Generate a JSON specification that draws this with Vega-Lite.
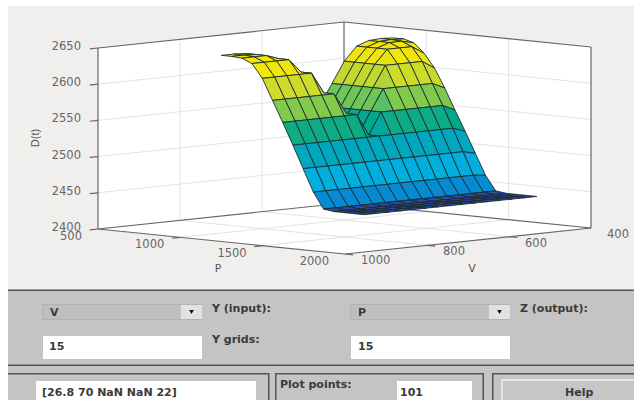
{
"$schema":"https://vega.github.io/schema/vega-lite/v6.json",
"width":634,"height":400,"padding":0,"autosize":{"type":"none"},"background":"#ffffff",
"config":{"view":{"stroke":null}},
"datasets":{
"panels":[
{"kind":"figure","x0":8,"x1":634,"y0":6,"y1":290},
{"kind":"panel","x0":8,"x1":634,"y0":290,"y1":400},
{"kind":"line","x0":8,"x1":634,"y0":289.5,"y1":291},
{"kind":"line","x0":8,"x1":634,"y0":364.5,"y1":366},
{"kind":"line","x0":8,"x1":269,"y0":373,"y1":374.5},
{"kind":"line","x0":268,"x1":269.5,"y0":373,"y1":400},
{"kind":"line","x0":275,"x1":484,"y0":373,"y1":374.5},
{"kind":"line","x0":275,"x1":276.5,"y0":373,"y1":400},
{"kind":"line","x0":482.5,"x1":484,"y0":373,"y1":400},
{"kind":"line","x0":492,"x1":634,"y0":373,"y1":374.5},
{"kind":"line","x0":492,"x1":493.5,"y0":373,"y1":400},
{"kind":"edge","x0":42,"x1":202,"y0":304,"y1":320},
{"kind":"popup","x0":43,"x1":201,"y0":305,"y1":319},
{"kind":"button","x0":181,"x1":202,"y0":305,"y1":319},
{"kind":"edge","x0":350,"x1":510,"y0":304,"y1":320},
{"kind":"popup","x0":351,"x1":509,"y0":305,"y1":319},
{"kind":"button","x0":489,"x1":510,"y0":305,"y1":319},
{"kind":"field","x0":43,"x1":202,"y0":336,"y1":359},
{"kind":"field","x0":351,"x1":510,"y0":336,"y1":359},
{"kind":"field","x0":36,"x1":256,"y0":381,"y1":400},
{"kind":"field","x0":397,"x1":472,"y0":381,"y1":400},
{"kind":"hl","x0":501,"x1":634,"y0":379,"y1":400},
{"kind":"help","x0":503,"x1":634,"y0":381,"y1":400}
],
"arrows":[{"x":191.5,"y":312},{"x":499.5,"y":312}],
"uitext":[
{"x":50,"y":313,"t":"V"},
{"x":212,"y":309,"t":"Y (input):"},
{"x":212,"y":340,"t":"Y grids:"},
{"x":49,"y":347,"t":"15"},
{"x":358,"y":313,"t":"P"},
{"x":520,"y":309,"t":"Z (output):"},
{"x":358,"y":347,"t":"15"},
{"x":42,"y":393,"t":"[26.8 70 NaN NaN 22]"},
{"x":280,"y":385,"t":"Plot points:"},
{"x":400,"y":393,"t":"101"},
{"x":565,"y":393,"t":"Help"}
],
"walls":[
{"o":0,"P":500,"V":1000,"D":2400},
{"o":1,"P":500,"V":1000,"D":2650},
{"o":2,"P":500,"V":400,"D":2650},
{"o":3,"P":2000,"V":400,"D":2650},
{"o":4,"P":2000,"V":400,"D":2400},
{"o":5,"P":2000,"V":1000,"D":2400},
{"o":6,"P":500,"V":1000,"D":2400}
],
"frame":[
{"kind":"grid","P0":500,"V0":1000,"D0":2450,"P1":500,"V1":400,"D1":2450},
{"kind":"grid","P0":500,"V0":1000,"D0":2500,"P1":500,"V1":400,"D1":2500},
{"kind":"grid","P0":500,"V0":1000,"D0":2550,"P1":500,"V1":400,"D1":2550},
{"kind":"grid","P0":500,"V0":1000,"D0":2600,"P1":500,"V1":400,"D1":2600},
{"kind":"grid","P0":500,"V0":400,"D0":2450,"P1":2000,"V1":400,"D1":2450},
{"kind":"grid","P0":500,"V0":400,"D0":2500,"P1":2000,"V1":400,"D1":2500},
{"kind":"grid","P0":500,"V0":400,"D0":2550,"P1":2000,"V1":400,"D1":2550},
{"kind":"grid","P0":500,"V0":400,"D0":2600,"P1":2000,"V1":400,"D1":2600},
{"kind":"grid","P0":500,"V0":800,"D0":2400,"P1":500,"V1":800,"D1":2650},
{"kind":"grid","P0":500,"V0":600,"D0":2400,"P1":500,"V1":600,"D1":2650},
{"kind":"grid","P0":1000,"V0":400,"D0":2400,"P1":1000,"V1":400,"D1":2650},
{"kind":"grid","P0":1500,"V0":400,"D0":2400,"P1":1500,"V1":400,"D1":2650},
{"kind":"grid","P0":1000,"V0":1000,"D0":2400,"P1":1000,"V1":400,"D1":2400},
{"kind":"grid","P0":1500,"V0":1000,"D0":2400,"P1":1500,"V1":400,"D1":2400},
{"kind":"grid","P0":500,"V0":800,"D0":2400,"P1":2000,"V1":800,"D1":2400},
{"kind":"grid","P0":500,"V0":600,"D0":2400,"P1":2000,"V1":600,"D1":2400},
{"kind":"edge","P0":500,"V0":1000,"D0":2400,"P1":500,"V1":1000,"D1":2650},
{"kind":"edge","P0":500,"V0":400,"D0":2400,"P1":500,"V1":400,"D1":2650},
{"kind":"edge","P0":2000,"V0":400,"D0":2400,"P1":2000,"V1":400,"D1":2650},
{"kind":"edge","P0":500,"V0":1000,"D0":2650,"P1":500,"V1":400,"D1":2650},
{"kind":"edge","P0":500,"V0":400,"D0":2650,"P1":2000,"V1":400,"D1":2650},
{"kind":"edge","P0":500,"V0":1000,"D0":2400,"P1":500,"V1":400,"D1":2400},
{"kind":"edge","P0":500,"V0":400,"D0":2400,"P1":2000,"V1":400,"D1":2400},
{"kind":"edge","P0":500,"V0":1000,"D0":2400,"P1":2000,"V1":1000,"D1":2400},
{"kind":"edge","P0":2000,"V0":1000,"D0":2400,"P1":2000,"V1":400,"D1":2400},
{"kind":"edge","P0":500,"V0":1000,"D0":2400,"P1":500,"V1":1020,"D1":2400},
{"kind":"edge","P0":500,"V0":1000,"D0":2450,"P1":500,"V1":1020,"D1":2450},
{"kind":"edge","P0":500,"V0":1000,"D0":2500,"P1":500,"V1":1020,"D1":2500},
{"kind":"edge","P0":500,"V0":1000,"D0":2550,"P1":500,"V1":1020,"D1":2550},
{"kind":"edge","P0":500,"V0":1000,"D0":2600,"P1":500,"V1":1020,"D1":2600},
{"kind":"edge","P0":500,"V0":1000,"D0":2650,"P1":500,"V1":1020,"D1":2650},
{"kind":"edge","P0":1000,"V0":1000,"D0":2400,"P1":1000,"V1":1020,"D1":2400},
{"kind":"edge","P0":1500,"V0":1000,"D0":2400,"P1":1500,"V1":1020,"D1":2400},
{"kind":"edge","P0":2000,"V0":1000,"D0":2400,"P1":2050,"V1":1000,"D1":2400},
{"kind":"edge","P0":2000,"V0":800,"D0":2400,"P1":2050,"V1":800,"D1":2400},
{"kind":"edge","P0":2000,"V0":600,"D0":2400,"P1":2050,"V1":600,"D1":2400}
],
"ticksP":[{"P":500,"V":1000,"D":2400,"t":"500"},{"P":1000,"V":1000,"D":2400,"t":"1000"},{"P":1500,"V":1000,"D":2400,"t":"1500"},{"P":2000,"V":1000,"D":2400,"t":"2000"}],
"ticksV":[{"P":2000,"V":1000,"D":2400,"t":"1000"},{"P":2000,"V":800,"D":2400,"t":"800"},{"P":2000,"V":600,"D":2400,"t":"600"},{"P":2000,"V":400,"D":2400,"t":"400"}],
"ticksD":[{"P":500,"V":1000,"D":2400,"t":"2400"},{"P":500,"V":1000,"D":2450,"t":"2450"},{"P":500,"V":1000,"D":2500,"t":"2500"},{"P":500,"V":1000,"D":2550,"t":"2550"},{"P":500,"V":1000,"D":2600,"t":"2600"},{"P":500,"V":1000,"D":2650,"t":"2650"}],
"titles":[{"x":218,"y":269,"t":"P"},{"x":472,"y":269,"t":"V"}],
"ztitle":[{"x":36,"y":138,"t":"D(t)"}],
"nodes":[
{"k":14,"i":0,"j":14,"P":950,"V":460,"D":2642},{"k":13,"i":0,"j":13,"P":950,"V":490,"D":2643},{"k":12,"i":0,"j":12,"P":950,"V":520,"D":2642},{"k":11,"i":0,"j":11,"P":950,"V":550,"D":2636},{"k":10,"i":0,"j":10,"P":950,"V":580,"D":2617},{"k":9,"i":0,"j":9,"P":950,"V":610,"D":2588},{"k":8,"i":0,"j":8,"P":950,"V":640,"D":2559},{"k":7,"i":0,"j":7,"P":950,"V":670,"D":2529},{"k":6,"i":0,"j":6,"P":950,"V":700,"D":2559},{"k":5,"i":0,"j":5,"P":950,"V":730,"D":2588},{"k":4,"i":0,"j":4,"P":950,"V":760,"D":2617},{"k":3,"i":0,"j":3,"P":950,"V":790,"D":2636},{"k":2,"i":0,"j":2,"P":950,"V":820,"D":2642},{"k":1,"i":0,"j":1,"P":950,"V":850,"D":2643},{"k":0,"i":0,"j":0,"P":950,"V":880,"D":2643},
{"k":114,"i":1,"j":14,"P":1012,"V":460,"D":2642},{"k":113,"i":1,"j":13,"P":1012,"V":490,"D":2643},{"k":112,"i":1,"j":12,"P":1012,"V":520,"D":2642},{"k":111,"i":1,"j":11,"P":1012,"V":550,"D":2636},{"k":110,"i":1,"j":10,"P":1012,"V":580,"D":2617},{"k":109,"i":1,"j":9,"P":1012,"V":610,"D":2588},{"k":108,"i":1,"j":8,"P":1012,"V":640,"D":2559},{"k":107,"i":1,"j":7,"P":1012,"V":670,"D":2529},{"k":106,"i":1,"j":6,"P":1012,"V":700,"D":2559},{"k":105,"i":1,"j":5,"P":1012,"V":730,"D":2588},{"k":104,"i":1,"j":4,"P":1012,"V":760,"D":2617},{"k":103,"i":1,"j":3,"P":1012,"V":790,"D":2636},{"k":102,"i":1,"j":2,"P":1012,"V":820,"D":2642},{"k":101,"i":1,"j":1,"P":1012,"V":850,"D":2643},{"k":100,"i":1,"j":0,"P":1012,"V":880,"D":2643},
{"k":214,"i":2,"j":14,"P":1074,"V":460,"D":2638},{"k":213,"i":2,"j":13,"P":1074,"V":490,"D":2642},{"k":212,"i":2,"j":12,"P":1074,"V":520,"D":2642},{"k":211,"i":2,"j":11,"P":1074,"V":550,"D":2636},{"k":210,"i":2,"j":10,"P":1074,"V":580,"D":2617},{"k":209,"i":2,"j":9,"P":1074,"V":610,"D":2588},{"k":208,"i":2,"j":8,"P":1074,"V":640,"D":2559},{"k":207,"i":2,"j":7,"P":1074,"V":670,"D":2529},{"k":206,"i":2,"j":6,"P":1074,"V":700,"D":2559},{"k":205,"i":2,"j":5,"P":1074,"V":730,"D":2588},{"k":204,"i":2,"j":4,"P":1074,"V":760,"D":2617},{"k":203,"i":2,"j":3,"P":1074,"V":790,"D":2636},{"k":202,"i":2,"j":2,"P":1074,"V":820,"D":2642},{"k":201,"i":2,"j":1,"P":1074,"V":850,"D":2642},{"k":200,"i":2,"j":0,"P":1074,"V":880,"D":2642},
{"k":314,"i":3,"j":14,"P":1136,"V":460,"D":2625},{"k":313,"i":3,"j":13,"P":1136,"V":490,"D":2636},{"k":312,"i":3,"j":12,"P":1136,"V":520,"D":2636},{"k":311,"i":3,"j":11,"P":1136,"V":550,"D":2636},{"k":310,"i":3,"j":10,"P":1136,"V":580,"D":2617},{"k":309,"i":3,"j":9,"P":1136,"V":610,"D":2588},{"k":308,"i":3,"j":8,"P":1136,"V":640,"D":2559},{"k":307,"i":3,"j":7,"P":1136,"V":670,"D":2529},{"k":306,"i":3,"j":6,"P":1136,"V":700,"D":2559},{"k":305,"i":3,"j":5,"P":1136,"V":730,"D":2588},{"k":304,"i":3,"j":4,"P":1136,"V":760,"D":2617},{"k":303,"i":3,"j":3,"P":1136,"V":790,"D":2636},{"k":302,"i":3,"j":2,"P":1136,"V":820,"D":2636},{"k":301,"i":3,"j":1,"P":1136,"V":850,"D":2636},{"k":300,"i":3,"j":0,"P":1136,"V":880,"D":2636},
{"k":414,"i":4,"j":14,"P":1199,"V":460,"D":2606},{"k":413,"i":4,"j":13,"P":1199,"V":490,"D":2617},{"k":412,"i":4,"j":12,"P":1199,"V":520,"D":2617},{"k":411,"i":4,"j":11,"P":1199,"V":550,"D":2617},{"k":410,"i":4,"j":10,"P":1199,"V":580,"D":2617},{"k":409,"i":4,"j":9,"P":1199,"V":610,"D":2588},{"k":408,"i":4,"j":8,"P":1199,"V":640,"D":2559},{"k":407,"i":4,"j":7,"P":1199,"V":670,"D":2529},{"k":406,"i":4,"j":6,"P":1199,"V":700,"D":2559},{"k":405,"i":4,"j":5,"P":1199,"V":730,"D":2588},{"k":404,"i":4,"j":4,"P":1199,"V":760,"D":2617},{"k":403,"i":4,"j":3,"P":1199,"V":790,"D":2617},{"k":402,"i":4,"j":2,"P":1199,"V":820,"D":2617},{"k":401,"i":4,"j":1,"P":1199,"V":850,"D":2617},{"k":400,"i":4,"j":0,"P":1199,"V":880,"D":2617},
{"k":514,"i":5,"j":14,"P":1261,"V":460,"D":2580},{"k":513,"i":5,"j":13,"P":1261,"V":490,"D":2588},{"k":512,"i":5,"j":12,"P":1261,"V":520,"D":2588},{"k":511,"i":5,"j":11,"P":1261,"V":550,"D":2588},{"k":510,"i":5,"j":10,"P":1261,"V":580,"D":2588},{"k":509,"i":5,"j":9,"P":1261,"V":610,"D":2588},{"k":508,"i":5,"j":8,"P":1261,"V":640,"D":2559},{"k":507,"i":5,"j":7,"P":1261,"V":670,"D":2529},{"k":506,"i":5,"j":6,"P":1261,"V":700,"D":2559},{"k":505,"i":5,"j":5,"P":1261,"V":730,"D":2588},{"k":504,"i":5,"j":4,"P":1261,"V":760,"D":2588},{"k":503,"i":5,"j":3,"P":1261,"V":790,"D":2588},{"k":502,"i":5,"j":2,"P":1261,"V":820,"D":2588},{"k":501,"i":5,"j":1,"P":1261,"V":850,"D":2588},{"k":500,"i":5,"j":0,"P":1261,"V":880,"D":2588},
{"k":614,"i":6,"j":14,"P":1323,"V":460,"D":2551},{"k":613,"i":6,"j":13,"P":1323,"V":490,"D":2559},{"k":612,"i":6,"j":12,"P":1323,"V":520,"D":2559},{"k":611,"i":6,"j":11,"P":1323,"V":550,"D":2559},{"k":610,"i":6,"j":10,"P":1323,"V":580,"D":2559},{"k":609,"i":6,"j":9,"P":1323,"V":610,"D":2559},{"k":608,"i":6,"j":8,"P":1323,"V":640,"D":2559},{"k":607,"i":6,"j":7,"P":1323,"V":670,"D":2529},{"k":606,"i":6,"j":6,"P":1323,"V":700,"D":2559},{"k":605,"i":6,"j":5,"P":1323,"V":730,"D":2559},{"k":604,"i":6,"j":4,"P":1323,"V":760,"D":2559},{"k":603,"i":6,"j":3,"P":1323,"V":790,"D":2559},{"k":602,"i":6,"j":2,"P":1323,"V":820,"D":2559},{"k":601,"i":6,"j":1,"P":1323,"V":850,"D":2559},{"k":600,"i":6,"j":0,"P":1323,"V":880,"D":2559},
{"k":714,"i":7,"j":14,"P":1385,"V":460,"D":2523},{"k":713,"i":7,"j":13,"P":1385,"V":490,"D":2529},{"k":712,"i":7,"j":12,"P":1385,"V":520,"D":2529},{"k":711,"i":7,"j":11,"P":1385,"V":550,"D":2529},{"k":710,"i":7,"j":10,"P":1385,"V":580,"D":2529},{"k":709,"i":7,"j":9,"P":1385,"V":610,"D":2529},{"k":708,"i":7,"j":8,"P":1385,"V":640,"D":2529},{"k":707,"i":7,"j":7,"P":1385,"V":670,"D":2529},{"k":706,"i":7,"j":6,"P":1385,"V":700,"D":2529},{"k":705,"i":7,"j":5,"P":1385,"V":730,"D":2529},{"k":704,"i":7,"j":4,"P":1385,"V":760,"D":2529},{"k":703,"i":7,"j":3,"P":1385,"V":790,"D":2529},{"k":702,"i":7,"j":2,"P":1385,"V":820,"D":2529},{"k":701,"i":7,"j":1,"P":1385,"V":850,"D":2529},{"k":700,"i":7,"j":0,"P":1385,"V":880,"D":2529},
{"k":814,"i":8,"j":14,"P":1447,"V":460,"D":2494},{"k":813,"i":8,"j":13,"P":1447,"V":490,"D":2498},{"k":812,"i":8,"j":12,"P":1447,"V":520,"D":2498},{"k":811,"i":8,"j":11,"P":1447,"V":550,"D":2498},{"k":810,"i":8,"j":10,"P":1447,"V":580,"D":2498},{"k":809,"i":8,"j":9,"P":1447,"V":610,"D":2498},{"k":808,"i":8,"j":8,"P":1447,"V":640,"D":2498},{"k":807,"i":8,"j":7,"P":1447,"V":670,"D":2498},{"k":806,"i":8,"j":6,"P":1447,"V":700,"D":2498},{"k":805,"i":8,"j":5,"P":1447,"V":730,"D":2498},{"k":804,"i":8,"j":4,"P":1447,"V":760,"D":2498},{"k":803,"i":8,"j":3,"P":1447,"V":790,"D":2498},{"k":802,"i":8,"j":2,"P":1447,"V":820,"D":2498},{"k":801,"i":8,"j":1,"P":1447,"V":850,"D":2498},{"k":800,"i":8,"j":0,"P":1447,"V":880,"D":2498},
{"k":914,"i":9,"j":14,"P":1509,"V":460,"D":2465},{"k":913,"i":9,"j":13,"P":1509,"V":490,"D":2467},{"k":912,"i":9,"j":12,"P":1509,"V":520,"D":2467},{"k":911,"i":9,"j":11,"P":1509,"V":550,"D":2467},{"k":910,"i":9,"j":10,"P":1509,"V":580,"D":2467},{"k":909,"i":9,"j":9,"P":1509,"V":610,"D":2467},{"k":908,"i":9,"j":8,"P":1509,"V":640,"D":2467},{"k":907,"i":9,"j":7,"P":1509,"V":670,"D":2467},{"k":906,"i":9,"j":6,"P":1509,"V":700,"D":2467},{"k":905,"i":9,"j":5,"P":1509,"V":730,"D":2467},{"k":904,"i":9,"j":4,"P":1509,"V":760,"D":2467},{"k":903,"i":9,"j":3,"P":1509,"V":790,"D":2467},{"k":902,"i":9,"j":2,"P":1509,"V":820,"D":2467},{"k":901,"i":9,"j":1,"P":1509,"V":850,"D":2467},{"k":900,"i":9,"j":0,"P":1509,"V":880,"D":2467},
{"k":1014,"i":10,"j":14,"P":1571,"V":460,"D":2445},{"k":1013,"i":10,"j":13,"P":1571,"V":490,"D":2445},{"k":1012,"i":10,"j":12,"P":1571,"V":520,"D":2445},{"k":1011,"i":10,"j":11,"P":1571,"V":550,"D":2445},{"k":1010,"i":10,"j":10,"P":1571,"V":580,"D":2445},{"k":1009,"i":10,"j":9,"P":1571,"V":610,"D":2445},{"k":1008,"i":10,"j":8,"P":1571,"V":640,"D":2445},{"k":1007,"i":10,"j":7,"P":1571,"V":670,"D":2445},{"k":1006,"i":10,"j":6,"P":1571,"V":700,"D":2445},{"k":1005,"i":10,"j":5,"P":1571,"V":730,"D":2445},{"k":1004,"i":10,"j":4,"P":1571,"V":760,"D":2445},{"k":1003,"i":10,"j":3,"P":1571,"V":790,"D":2445},{"k":1002,"i":10,"j":2,"P":1571,"V":820,"D":2445},{"k":1001,"i":10,"j":1,"P":1571,"V":850,"D":2445},{"k":1000,"i":10,"j":0,"P":1571,"V":880,"D":2445},
{"k":1114,"i":11,"j":14,"P":1634,"V":460,"D":2443},{"k":1113,"i":11,"j":13,"P":1634,"V":490,"D":2443},{"k":1112,"i":11,"j":12,"P":1634,"V":520,"D":2443},{"k":1111,"i":11,"j":11,"P":1634,"V":550,"D":2443},{"k":1110,"i":11,"j":10,"P":1634,"V":580,"D":2443},{"k":1109,"i":11,"j":9,"P":1634,"V":610,"D":2443},{"k":1108,"i":11,"j":8,"P":1634,"V":640,"D":2443},{"k":1107,"i":11,"j":7,"P":1634,"V":670,"D":2443},{"k":1106,"i":11,"j":6,"P":1634,"V":700,"D":2443},{"k":1105,"i":11,"j":5,"P":1634,"V":730,"D":2443},{"k":1104,"i":11,"j":4,"P":1634,"V":760,"D":2443},{"k":1103,"i":11,"j":3,"P":1634,"V":790,"D":2443},{"k":1102,"i":11,"j":2,"P":1634,"V":820,"D":2443},{"k":1101,"i":11,"j":1,"P":1634,"V":850,"D":2443},{"k":1100,"i":11,"j":0,"P":1634,"V":880,"D":2443},
{"k":1214,"i":12,"j":14,"P":1696,"V":460,"D":2443},{"k":1213,"i":12,"j":13,"P":1696,"V":490,"D":2443},{"k":1212,"i":12,"j":12,"P":1696,"V":520,"D":2443},{"k":1211,"i":12,"j":11,"P":1696,"V":550,"D":2443},{"k":1210,"i":12,"j":10,"P":1696,"V":580,"D":2443},{"k":1209,"i":12,"j":9,"P":1696,"V":610,"D":2443},{"k":1208,"i":12,"j":8,"P":1696,"V":640,"D":2443},{"k":1207,"i":12,"j":7,"P":1696,"V":670,"D":2443},{"k":1206,"i":12,"j":6,"P":1696,"V":700,"D":2443},{"k":1205,"i":12,"j":5,"P":1696,"V":730,"D":2443},{"k":1204,"i":12,"j":4,"P":1696,"V":760,"D":2443},{"k":1203,"i":12,"j":3,"P":1696,"V":790,"D":2443},{"k":1202,"i":12,"j":2,"P":1696,"V":820,"D":2443},{"k":1201,"i":12,"j":1,"P":1696,"V":850,"D":2443},{"k":1200,"i":12,"j":0,"P":1696,"V":880,"D":2443},
{"k":1314,"i":13,"j":14,"P":1758,"V":460,"D":2443},{"k":1313,"i":13,"j":13,"P":1758,"V":490,"D":2443},{"k":1312,"i":13,"j":12,"P":1758,"V":520,"D":2443},{"k":1311,"i":13,"j":11,"P":1758,"V":550,"D":2443},{"k":1310,"i":13,"j":10,"P":1758,"V":580,"D":2443},{"k":1309,"i":13,"j":9,"P":1758,"V":610,"D":2443},{"k":1308,"i":13,"j":8,"P":1758,"V":640,"D":2443},{"k":1307,"i":13,"j":7,"P":1758,"V":670,"D":2443},{"k":1306,"i":13,"j":6,"P":1758,"V":700,"D":2443},{"k":1305,"i":13,"j":5,"P":1758,"V":730,"D":2443},{"k":1304,"i":13,"j":4,"P":1758,"V":760,"D":2443},{"k":1303,"i":13,"j":3,"P":1758,"V":790,"D":2443},{"k":1302,"i":13,"j":2,"P":1758,"V":820,"D":2443},{"k":1301,"i":13,"j":1,"P":1758,"V":850,"D":2443},{"k":1300,"i":13,"j":0,"P":1758,"V":880,"D":2443},
{"k":1414,"i":14,"j":14,"P":1820,"V":460,"D":2443},{"k":1413,"i":14,"j":13,"P":1820,"V":490,"D":2443},{"k":1412,"i":14,"j":12,"P":1820,"V":520,"D":2443},{"k":1411,"i":14,"j":11,"P":1820,"V":550,"D":2443},{"k":1410,"i":14,"j":10,"P":1820,"V":580,"D":2443},{"k":1409,"i":14,"j":9,"P":1820,"V":610,"D":2443},{"k":1408,"i":14,"j":8,"P":1820,"V":640,"D":2443},{"k":1407,"i":14,"j":7,"P":1820,"V":670,"D":2443},{"k":1406,"i":14,"j":6,"P":1820,"V":700,"D":2443},{"k":1405,"i":14,"j":5,"P":1820,"V":730,"D":2443},{"k":1404,"i":14,"j":4,"P":1820,"V":760,"D":2443},{"k":1403,"i":14,"j":3,"P":1820,"V":790,"D":2443},{"k":1402,"i":14,"j":2,"P":1820,"V":820,"D":2443},{"k":1401,"i":14,"j":1,"P":1820,"V":850,"D":2443},{"k":1400,"i":14,"j":0,"P":1820,"V":880,"D":2443}
]
},
"layer":[
{"data":{"name":"panels"},"mark":{"type":"rect"},
 "encoding":{
  "x":{"field":"x0","type":"quantitative","scale":{"domain":[0,634]},"axis":null},
  "x2":{"field":"x1"},
  "y":{"field":"y0","type":"quantitative","scale":{"domain":[400,0]},"axis":null},
  "y2":{"field":"y1"},
  "fill":{"field":"kind","type":"nominal","legend":null,
   "scale":{"domain":["figure","panel","line","edge","popup","button","field","hl","help"],"range":["#f0efee","#c4c4c4","#555555","#b2b2b2","#bfbfbf","#e2e2e2","#ffffff","#e6e6e6","#c6c6c6"]}}}},
{"data":{"name":"arrows"},"mark":{"type":"point","shape":"triangle-down","filled":true,"size":22,"color":"#111111","opacity":1},
 "encoding":{
  "x":{"field":"x","type":"quantitative","scale":{"domain":[0,634]},"axis":null},
  "y":{"field":"y","type":"quantitative","scale":{"domain":[400,0]},"axis":null}}},
{"data":{"name":"walls"},
 "transform":[
  {"calculate":"98+247*(datum.P-500)/1500+246*(1000-datum.V)/600","as":"px"},
  {"calculate":"229+25*(datum.P-500)/1500-26*(1000-datum.V)/600-0.724*(datum.D-2400)","as":"py"}],
 "mark":{"type":"line","fill":"#ffffff","stroke":null},
 "encoding":{
  "x":{"field":"px","type":"quantitative","scale":{"domain":[0,634]},"axis":null},
  "y":{"field":"py","type":"quantitative","scale":{"domain":[400,0]},"axis":null},
  "order":{"field":"o","type":"quantitative"}}},
{"data":{"name":"frame"},
 "transform":[
  {"calculate":"98+247*(datum.P0-500)/1500+246*(1000-datum.V0)/600","as":"ax"},
  {"calculate":"229+25*(datum.P0-500)/1500-26*(1000-datum.V0)/600-0.724*(datum.D0-2400)","as":"ay"},
  {"calculate":"98+247*(datum.P1-500)/1500+246*(1000-datum.V1)/600","as":"bx"},
  {"calculate":"229+25*(datum.P1-500)/1500-26*(1000-datum.V1)/600-0.724*(datum.D1-2400)","as":"by"}],
 "mark":{"type":"rule"},
 "encoding":{
  "x":{"field":"ax","type":"quantitative","scale":{"domain":[0,634]},"axis":null},
  "y":{"field":"ay","type":"quantitative","scale":{"domain":[400,0]},"axis":null},
  "x2":{"field":"bx"},"y2":{"field":"by"},
  "stroke":{"field":"kind","type":"nominal","legend":null,"scale":{"domain":["grid","edge"],"range":["#e3e3e3","#666666"]}},
  "strokeWidth":{"field":"kind","type":"nominal","legend":null,"scale":{"domain":["grid","edge"],"range":[1,1.2]}}}},
{"data":{"name":"nodes"},
 "transform":[
  {"filter":"datum.i<14 && datum.j<14"},
  {"calculate":"datum.k","as":"cell"},
  {"calculate":"[0,1,2,3,4]","as":"corner"},
  {"flatten":["corner"]},
  {"calculate":"datum.cell+((datum.corner==1||datum.corner==2)?100:0)+((datum.corner==2||datum.corner==3)?1:0)","as":"nk"},
  {"lookup":"nk","from":{"data":{"name":"nodes"},"key":"k","fields":["P","V","D"]},"as":["nP","nV","nD"]},
  {"joinaggregate":[{"op":"mean","field":"nD","as":"level"}],"groupby":["cell"]},
  {"calculate":"98+247*(datum.nP-500)/1500+246*(1000-datum.nV)/600","as":"px"},
  {"calculate":"229+25*(datum.nP-500)/1500-26*(1000-datum.nV)/600-0.724*(datum.nD-2400)","as":"py"}],
 "mark":{"type":"line","strokeWidth":0.9,"stroke":"#1c2a30","strokeJoin":"round"},
 "encoding":{
  "x":{"field":"px","type":"quantitative","scale":{"domain":[0,634]},"axis":null},
  "y":{"field":"py","type":"quantitative","scale":{"domain":[400,0]},"axis":null},
  "detail":{"field":"cell","type":"nominal"},
  "order":{"field":"corner","type":"quantitative"},
  "fill":{"field":"level","type":"quantitative","legend":null,
   "scale":{"domain":[2443,2450,2456,2482,2513,2544,2573,2602,2626,2645],
            "range":["#2a45a5","#0a70c8","#0a88d0","#04b0e2","#04a8c2","#00a888","#78c850","#cad92c","#f0e60a","#f8e800"]}}}},
{"data":{"name":"ticksD"},
 "transform":[
  {"calculate":"98+247*(datum.P-500)/1500+246*(1000-datum.V)/600","as":"px"},
  {"calculate":"229+25*(datum.P-500)/1500-26*(1000-datum.V)/600-0.724*(datum.D-2400)","as":"py"}],
 "mark":{"type":"text","align":"right","baseline":"middle","dx":-17,"dy":-1,"font":"DejaVu Sans","fontSize":11.5,"color":"#666666"},
 "encoding":{
  "x":{"field":"px","type":"quantitative","scale":{"domain":[0,634]},"axis":null},
  "y":{"field":"py","type":"quantitative","scale":{"domain":[400,0]},"axis":null},
  "text":{"field":"t","type":"nominal"}}},
{"data":{"name":"ticksP"},
 "transform":[
  {"calculate":"98+247*(datum.P-500)/1500+246*(1000-datum.V)/600","as":"px"},
  {"calculate":"229+25*(datum.P-500)/1500-26*(1000-datum.V)/600-0.724*(datum.D-2400)","as":"py"}],
 "mark":{"type":"text","align":"right","baseline":"middle","dx":-16,"dy":8,"font":"DejaVu Sans","fontSize":11.5,"color":"#666666"},
 "encoding":{
  "x":{"field":"px","type":"quantitative","scale":{"domain":[0,634]},"axis":null},
  "y":{"field":"py","type":"quantitative","scale":{"domain":[400,0]},"axis":null},
  "text":{"field":"t","type":"nominal"}}},
{"data":{"name":"ticksV"},
 "transform":[
  {"calculate":"98+247*(datum.P-500)/1500+246*(1000-datum.V)/600","as":"px"},
  {"calculate":"229+25*(datum.P-500)/1500-26*(1000-datum.V)/600-0.724*(datum.D-2400)","as":"py"}],
 "mark":{"type":"text","align":"left","baseline":"middle","dx":16,"dy":7,"font":"DejaVu Sans","fontSize":11.5,"color":"#666666"},
 "encoding":{
  "x":{"field":"px","type":"quantitative","scale":{"domain":[0,634]},"axis":null},
  "y":{"field":"py","type":"quantitative","scale":{"domain":[400,0]},"axis":null},
  "text":{"field":"t","type":"nominal"}}},
{"data":{"name":"titles"},
 "mark":{"type":"text","align":"center","baseline":"middle","font":"DejaVu Sans","fontSize":11,"color":"#555555"},
 "encoding":{
  "x":{"field":"x","type":"quantitative","scale":{"domain":[0,634]},"axis":null},
  "y":{"field":"y","type":"quantitative","scale":{"domain":[400,0]},"axis":null},
  "text":{"field":"t","type":"nominal"}}},
{"data":{"name":"ztitle"},
 "mark":{"type":"text","align":"center","baseline":"middle","angle":270,"font":"Liberation Sans","fontSize":11,"color":"#555555"},
 "encoding":{
  "x":{"field":"x","type":"quantitative","scale":{"domain":[0,634]},"axis":null},
  "y":{"field":"y","type":"quantitative","scale":{"domain":[400,0]},"axis":null},
  "text":{"field":"t","type":"nominal"}}},
{"data":{"name":"uitext"},
 "mark":{"type":"text","align":"left","baseline":"middle","font":"DejaVu Sans","fontWeight":"bold","fontSize":11,"color":"#3a3a3a"},
 "encoding":{
  "x":{"field":"x","type":"quantitative","scale":{"domain":[0,634]},"axis":null},
  "y":{"field":"y","type":"quantitative","scale":{"domain":[400,0]},"axis":null},
  "text":{"field":"t","type":"nominal"}}}
]
}
